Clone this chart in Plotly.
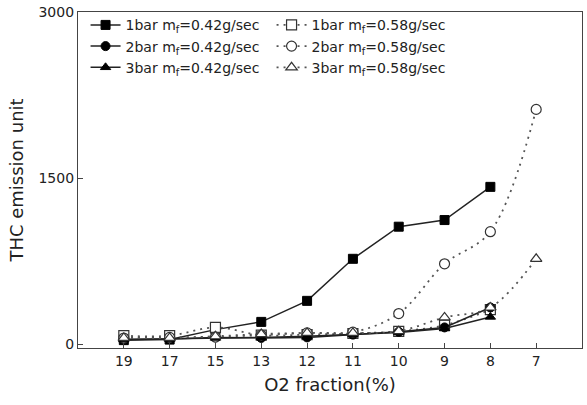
import plotly.graph_objects as go

o2_fraction = ["19", "17", "15", "13", "12", "11", "10", "9", "8", "7"]

bar1_042 = [35, 40, 130, 200, 390, 770, 1060, 1120, 1420]
bar1_058 = [75, 75, 150, 80, 85, 95, 115, 170, 310]
bar2_042 = [40, 45, 60, 55, 60, 85, 110, 150, 330]
bar2_058 = [54, 60, 63, 80, 100, 107, 275, 725, 1015, 2120]
bar3_042 = [40, 45, 55, 60, 70, 85, 105, 140, 245]
bar3_058 = [55, 55, 70, 90, 100, 100, 116, 240, 330, 770]

names = [
    "1bar m<sub>f</sub>=0.42g/sec", "1bar m<sub>f</sub>=0.58g/sec",
    "2bar m<sub>f</sub>=0.42g/sec", "2bar m<sub>f</sub>=0.58g/sec",
    "3bar m<sub>f</sub>=0.42g/sec", "3bar m<sub>f</sub>=0.58g/sec",
]

series = [
    (bar1_042, "square", True),
    (bar1_058, "square-open", False),
    (bar2_042, "circle", True),
    (bar2_058, "circle-open", False),
    (bar3_042, "triangle-up", True),
    (bar3_058, "triangle-up-open", False),
]

FONT = "DejaVu Sans, Liberation Sans, Arial"

fig = go.Figure()
for name, (vals, sym, solid) in zip(names, series):
    if solid:
        line = dict(color="#222222", width=1.5, dash="solid")
        marker = dict(symbol=sym, size=9, color="#000000",
                      line=dict(color="#000000", width=1))
    else:
        line = dict(color="#555555", width=1.8, dash="2px,5px", shape="spline")
        marker = dict(symbol=sym.replace("-open", ""), size=10, color="white",
                      line=dict(color="#333333", width=1.2))
    fig.add_trace(go.Scatter(
        x=o2_fraction[:len(vals)], y=vals, name=name,
        mode="lines+markers", line=line, marker=marker,
    ))

axis_common = dict(
    showline=True, linecolor="#444444", linewidth=1.2, mirror=True,
    ticks="inside", ticklen=5, tickcolor="#444444", showgrid=False,
    zeroline=False,
    tickfont=dict(family=FONT, size=14, color="#222222"),
)

fig.update_layout(
    width=587, height=405,
    margin=dict(l=78, r=4, t=9, b=57),
    paper_bgcolor="white", plot_bgcolor="white",
    font=dict(family=FONT, size=14, color="#222222"),
    xaxis=dict(
        type="category", categoryorder="array", categoryarray=o2_fraction,
        range=[-1, 10],
        title=dict(text="O2 fraction(%)", font=dict(size=18), standoff=10),
        **axis_common,
    ),
    yaxis=dict(
        range=[-36, 3000], tickvals=[0, 1500, 3000],
        title=dict(text="THC emission unit", font=dict(size=18), standoff=10),
        **axis_common,
    ),
    legend=dict(
        orientation="h", x=0.015, y=1.008, xanchor="left", yanchor="top",
        entrywidth=141, entrywidthmode="pixels",
        bgcolor="rgba(0,0,0,0)", font=dict(size=14),
    ),
    showlegend=True,
)

fig.write_html("out.html")
